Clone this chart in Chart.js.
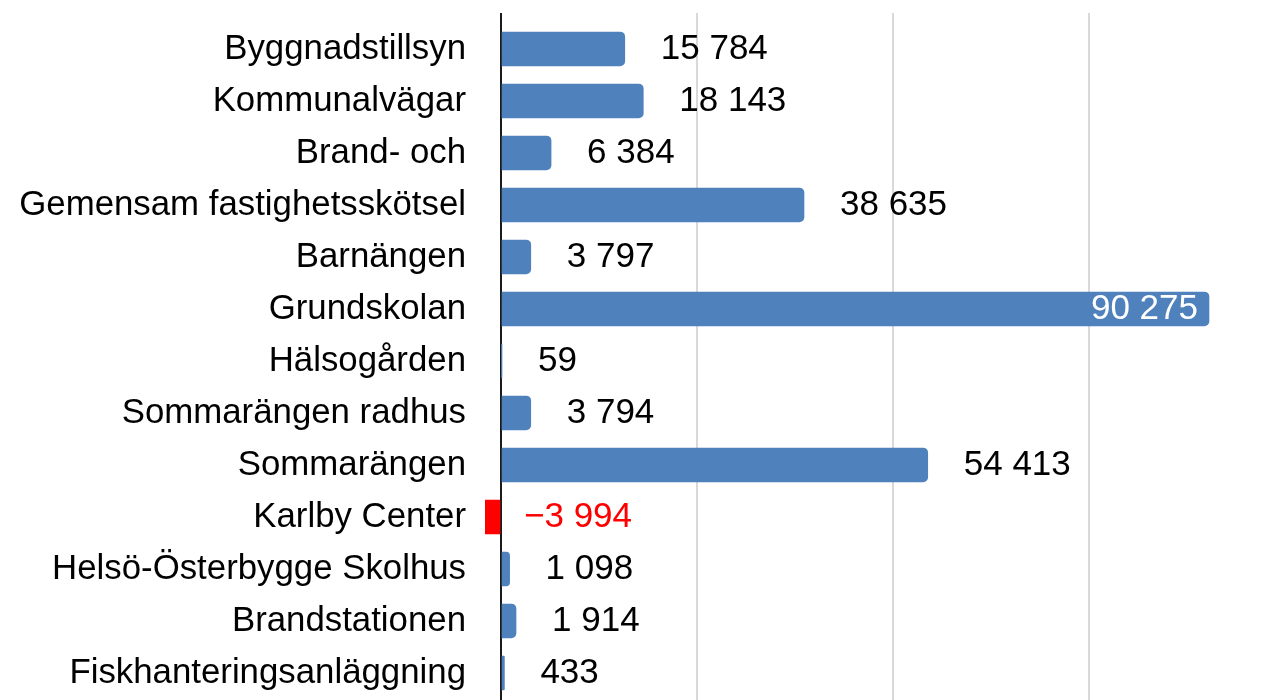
<!DOCTYPE html>
<html>
<head>
<meta charset="utf-8">
<script src="https://cdn.jsdelivr.net/npm/chart.js@4.4.1/dist/chart.umd.min.js"></script>
<style>
  html, body { margin: 0; padding: 0; background: #ffffff; overflow: hidden; }
  #wrap { width: 1268px; height: 700px; }
</style>
</head>
<body>
<div id="wrap"><canvas id="c" width="1268" height="700"></canvas></div>
<script>
const categories = [
  "Byggnadstillsyn",
  "Kommunalvägar",
  "Brand- och",
  "Gemensam fastighetsskötsel",
  "Barnängen",
  "Grundskolan",
  "Hälsogården",
  "Sommarängen radhus",
  "Sommarängen",
  "Karlby Center",
  "Helsö-Österbygge Skolhus",
  "Brandstationen",
  "Fiskhanteringsanläggning"
];
const values = [15784, 18143, 6384, 38635, 3797, 90275, 59, 3794, 54413, -3994, 1098, 1914, 433];
const xTicks = [0, 25000, 50000, 75000];

const FONT = '"Liberation Sans", Arial, Helvetica, sans-serif';
const BLUE = '#4f81bd';
const RED = '#ff0000';

function fmt(v) {
  const s = Math.abs(v).toString().replace(/\B(?=(\d{3})+(?!\d))/g, ' ');
  return (v < 0 ? '\u2212' : '') + s;
}

const valueLabels = {
  id: 'valueLabels',
  afterDatasetsDraw(chart) {
    const ctx = chart.ctx;
    const meta = chart.getDatasetMeta(0);
    const area = chart.chartArea;
    ctx.save();
    ctx.font = '35px ' + FONT;
    ctx.textBaseline = 'middle';
    meta.data.forEach((el, i) => {
      const v = values[i];
      const txt = fmt(v);
      const w = ctx.measureText(txt).width;
      const end = Math.max(el.x, el.base);
      let x = end + (v < 0 ? 24 : 36);
      if (x + w > area.right) {
        ctx.fillStyle = '#ffffff';
        ctx.textAlign = 'right';
        ctx.fillText(txt, end - 11, el.y);
      } else {
        ctx.fillStyle = v < 0 ? RED : '#000000';
        ctx.textAlign = 'left';
        ctx.fillText(txt, x, el.y);
      }
    });
    ctx.restore();
  }
};

new Chart(document.getElementById('c'), {
  type: 'bar',
  data: {
    datasets: [{
      data: values.map((v, i) => ({ x: v, y: i })),
      backgroundColor: values.map(v => v < 0 ? RED : BLUE),
      borderWidth: 0,
      borderRadius: 5,
      barThickness: 34
    }]
  },
  options: {
    indexAxis: 'y',
    responsive: false,
    animation: false,
    layout: { padding: { top: 13, left: 0, right: 0, bottom: 0 } },
    plugins: { legend: { display: false }, tooltip: { enabled: false } },
    scales: {
      x: {
        type: 'linear',
        bounds: 'data',
        offset: false,
        min: -2040,
        max: 97800,
        afterBuildTicks: (scale) => { scale.ticks = xTicks.map(v => ({ value: v })); },
        afterFit: (scale) => { scale.paddingLeft = 0; scale.paddingRight = 0; scale.height = 0; },
        ticks: { display: false },
        grid: {
          drawTicks: false,
          offset: false,
          lineWidth: 2,
          color: (c) => (c.tick && c.tick.value === 0) ? '#1a1a1a' : '#d9d9d9'
        },
        border: { display: false }
      },
      y: {
        type: 'linear',
        bounds: 'data',
        offset: false,
        reverse: true,
        min: -0.692,
        max: 12.52,
        afterBuildTicks: (scale) => { scale.ticks = categories.map((c, i) => ({ value: i })); },
        afterFit: (scale) => { scale.width = 485; scale.paddingTop = 0; scale.paddingBottom = 0; },
        ticks: {
          autoSkip: false,
          padding: 19,
          color: '#000000',
          font: { family: FONT, size: 34.8 },
          callback: (v) => categories[v] !== undefined ? categories[v] : ''
        },
        grid: { display: false, drawTicks: false, offset: false },
        border: { display: false }
      }
    }
  },
  plugins: [valueLabels]
});
</script>
</body>
</html>
